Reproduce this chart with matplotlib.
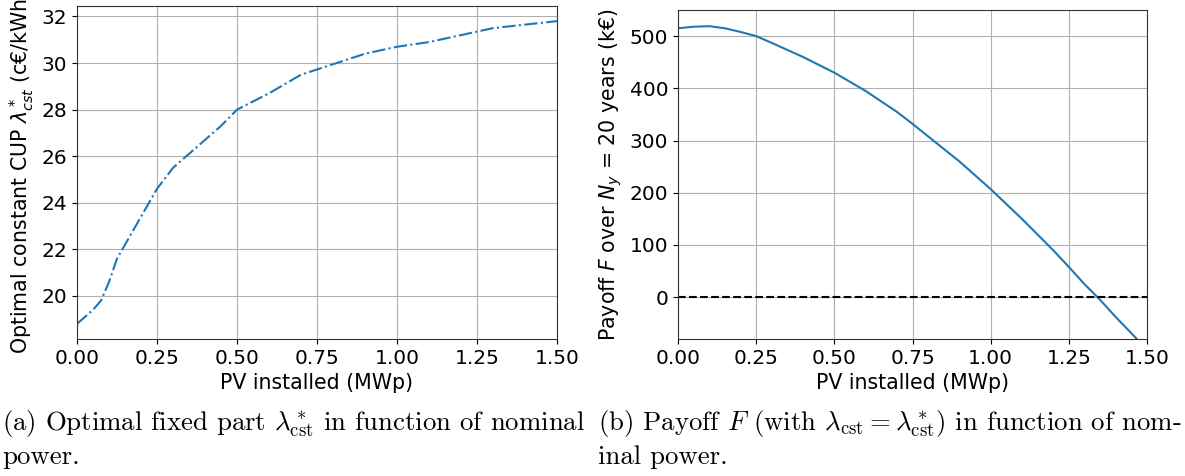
import numpy as np
import matplotlib
matplotlib.use('Agg')
import matplotlib.pyplot as plt

plt.rcParams['font.family'] = 'DejaVu Sans'

# data
pv_a = [0.0, 0.025, 0.05, 0.075, 0.1, 0.125, 0.15, 0.2, 0.25, 0.3, 0.35, 0.4, 0.45, 0.5,
        0.6, 0.7, 0.8, 0.9, 1.0, 1.1, 1.2, 1.3, 1.4, 1.5]
lam_cst = [18.8, 19.1, 19.4, 19.8, 20.6, 21.6, 22.2, 23.4, 24.6, 25.5, 26.1, 26.7, 27.3, 28.0,
           28.7, 29.5, 29.95, 30.4, 30.7, 30.9, 31.2, 31.5, 31.65, 31.8]

pv_b = [0.0, 0.05, 0.1, 0.15, 0.2, 0.25, 0.3, 0.4, 0.5, 0.6, 0.7, 0.75, 0.8, 0.9,
        1.0, 1.1, 1.2, 1.25, 1.3, 1.35, 1.4, 1.5]
payoff = [515, 518, 519, 515, 508, 500, 487, 460, 430, 395, 355, 332, 308, 260,
          207, 150, 90, 58, 25, -5, -38, -100]

xticks = [0.0, 0.25, 0.5, 0.75, 1.0, 1.25, 1.5]
TICK_FS = 14.5
LAB_FS = 14.8

fig = plt.figure(figsize=(11.85, 4.76), dpi=100)

# (a)
ax1 = fig.add_axes([77 / 1185, 137 / 476, 480 / 1185, 333 / 476])
ax1.plot(pv_a, lam_cst, '-.', color='#1f77b4', linewidth=1.5)
ax1.set_xlim(0, 1.5)
ax1.set_xticks(xticks)
ax1.set_yticks([20, 22, 24, 26, 28, 30, 32])
ax1.set_xlabel('PV installed (MWp)', fontsize=LAB_FS)
ax1.set_ylabel(r'Optimal constant CUP $\lambda^*_{cst}$ (c€/kWh)', fontsize=LAB_FS)
ax1.grid(True, color='#b0b0b0')
ax1.tick_params(labelsize=TICK_FS)

# (b)
ax2 = fig.add_axes([678 / 1185, 137 / 476, 469 / 1185, 329 / 476])
ax2.plot(pv_b, payoff, '-', color='#1f77b4', linewidth=1.5)
ax2.axhline(0, color='black', linestyle='--', linewidth=1.5)
ax2.set_xlim(0, 1.5)
ax2.set_ylim(-80, 550)
ax2.set_xticks(xticks)
ax2.set_yticks([0, 100, 200, 300, 400, 500])
ax2.set_xlabel('PV installed (MWp)', fontsize=LAB_FS)
ax2.set_ylabel(r'Payoff $F$ over $N_y$ = 20 years (k€)', fontsize=LAB_FS)
ax2.grid(True, color='#b0b0b0')
ax2.tick_params(labelsize=TICK_FS)

for ax in (ax1, ax2):
    for s in ax.spines.values():
        s.set_color('#333333')

# captions
cap_a = '(a) Optimal fixed part $\\lambda^*_{\\rm cst}$ in function of nominal\npower.'
cap_b = ('(b) Payoff $F$ (with $\\lambda_{\\rm cst} = \\lambda^*_{\\rm cst}$) in function of nom-\n'
         'inal power.')
fig.text(0.002, 1 - 408 / 476, cap_a, family='cmr10', math_fontfamily='cm',
         fontsize=19.3, va='top', linespacing=1.35)
fig.text(598 / 1185, 1 - 408 / 476, cap_b, family='cmr10', math_fontfamily='cm',
         fontsize=19.3, va='top', linespacing=1.35)

fig.savefig('out.png', dpi=100)
